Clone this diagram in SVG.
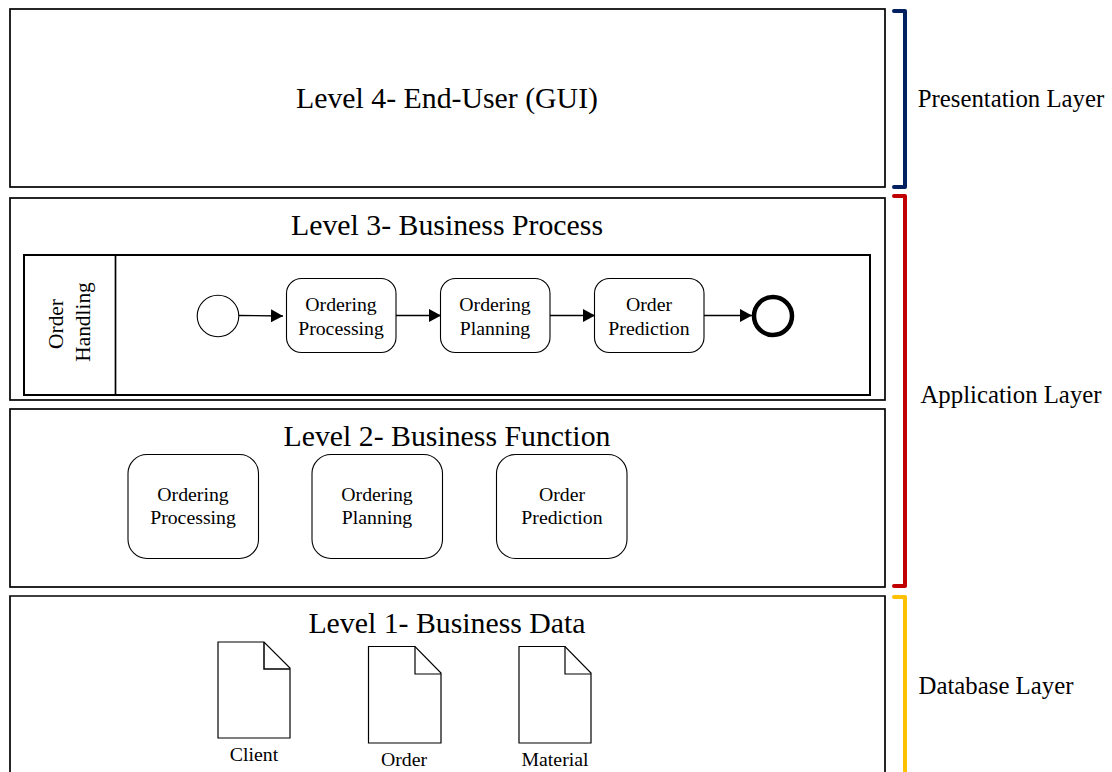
<svg xmlns="http://www.w3.org/2000/svg" width="1112" height="772" viewBox="0 0 1112 772">
<style>
text{font-family:"Liberation Serif","Times New Roman",serif;fill:#000;text-anchor:middle}
.lvl{font-size:29.8px}
.side{font-size:24.8px}
.t{font-size:19.8px}
.r{font-size:21.4px}
.box{fill:#fff;stroke:#000;stroke-width:1.7}
.pool{fill:#fff;stroke:#000;stroke-width:2}
.task{fill:#fff;stroke:#000;stroke-width:1.1}
.doc{fill:#fff;stroke:#000;stroke-width:1.2;stroke-linejoin:miter}
.br{fill:none;stroke-width:4;stroke-linecap:round;stroke-linejoin:round}
.c{fill:none;stroke:#000;stroke-width:1.3;marker-end:url(#a)}
</style>
<defs><marker id="a" markerUnits="userSpaceOnUse" markerWidth="13" markerHeight="14" refX="12" refY="6.5" orient="auto"><path d="M0 0L12 6.5L0 13Z" fill="#000"/></marker></defs>
<rect width="1112" height="772" fill="#fff"/>
<g id="level4"><rect class="box" x="10" y="9" width="875" height="178"/><text class="lvl" x="447" y="108">Level 4- End-User (GUI)</text></g>
<g id="level3"><rect class="box" x="10" y="198" width="875" height="202"/><text class="lvl" x="447" y="235">Level 3- Business Process</text></g>
<g id="pool"><rect class="pool" x="24" y="255" width="846" height="140"/><line x1="115.500" y1="255" x2="115.500" y2="395" stroke="#000" stroke-width="1.700"/>
<text class="r" transform="translate(63 324) rotate(-90)">Order</text><text class="r" transform="translate(90 322) rotate(-90)">Handling</text></g>
<g id="start"><circle cx="218" cy="316" r="20.800" fill="#fff" stroke="#000" stroke-width="1.100"/></g>
<g id="task1"><rect class="task" x="286.500" y="278.500" width="109.500" height="74" rx="15"/><text class="t" x="341" y="310.500">Ordering</text><text class="t" x="341" y="334.500">Processing</text></g>
<g id="task2"><rect class="task" x="440.500" y="278.500" width="109.500" height="74" rx="15"/><text class="t" x="495" y="310.500">Ordering</text><text class="t" x="495" y="334.500">Planning</text></g>
<g id="task3"><rect class="task" x="594.500" y="278.500" width="109.500" height="74" rx="15"/><text class="t" x="649" y="310.500">Order</text><text class="t" x="649" y="334.500">Prediction</text></g>
<g id="end"><circle cx="773" cy="316" r="19" fill="#fff" stroke="#000" stroke-width="4.500"/></g>
<g id="connectors">
<path class="c" d="M239 315.500L283 316"/><path class="c" d="M396 315.500H441"/><path class="c" d="M550 315.500H595"/><path class="c" d="M704 315.500H752"/>
</g>
<g id="level2"><rect class="box" x="10" y="409" width="875" height="178"/><text class="lvl" x="447" y="446">Level 2- Business Function</text></g>
<g id="func1"><rect class="task" x="128" y="454.500" width="130.500" height="104" rx="19"/><text class="t" x="193" y="501">Ordering</text><text class="t" x="193" y="524">Processing</text></g>
<g id="func2"><rect class="task" x="312" y="454.500" width="130.500" height="104" rx="19"/><text class="t" x="377" y="501">Ordering</text><text class="t" x="377" y="524">Planning</text></g>
<g id="func3"><rect class="task" x="496.500" y="454.500" width="130.500" height="104" rx="19"/><text class="t" x="562" y="501">Order</text><text class="t" x="562" y="524">Prediction</text></g>
<g id="level1"><path class="box" d="M10 772V596H885V772"/><text class="lvl" x="447" y="633">Level 1- Business Data</text></g>
<g id="doc-client"><path class="doc" d="M218 642H264L290 668V738H218Z"/><path d="M264 642V669H290" fill="none" stroke="#000" stroke-width="1.500"/><text class="t" x="254" y="761">Client</text></g>
<g id="doc-order"><path class="doc" d="M368.500 646.500H415L441 673V743H368.500Z"/><path d="M415 646.500V674H441" fill="none" stroke="#000" stroke-width="1.200"/><text class="t" x="404" y="766">Order</text></g>
<g id="doc-material"><path class="doc" d="M519 646.500H565L591 673V743H519Z"/><path d="M565 646.500V674H591" fill="none" stroke="#000" stroke-width="1.200"/><text class="t" x="555" y="766">Material</text></g>
<g id="presentation"><path class="br" stroke="#002060" d="M894 11H905V187H894"/><text class="side" x="1011" y="106.500">Presentation Layer</text></g>
<g id="application"><path class="br" stroke="#c00000" d="M894 196H905V586H894"/><text class="side" x="1011" y="402.500">Application Layer</text></g>
<g id="database"><path class="br" stroke="#ffc000" d="M894 597H905V772"/><text class="side" x="996" y="693.500">Database Layer</text></g>
</svg>
